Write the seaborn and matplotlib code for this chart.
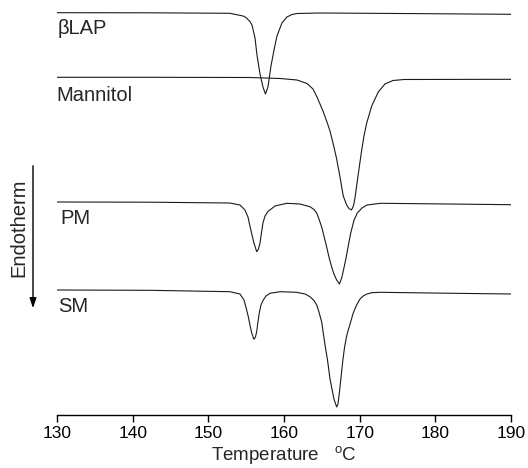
import numpy as np
import pandas as pd
import matplotlib
matplotlib.use("Agg")
import matplotlib.pyplot as plt
import seaborn as sns

# ---- data (temperature in degC, heat flow in a.u., endotherm down) ----
blap_T = [130.00, 142.29, 152.86, 154.58, 154.97, 155.50, 155.77, 156.17, 156.43, 156.83, 157.22,
          157.55, 157.88, 158.28, 158.68, 159.07, 159.73, 160.39, 161.06, 161.72, 164.75, 175.33, 190.00]
blap_hf = [402.3, 402.2, 401.7, 399.0, 397.5, 393.5, 390.0, 377.0, 360.0, 341.0, 328.0,
           321.0, 328.0, 349.0, 365.0, 379.0, 392.0, 398.0, 400.5, 401.5, 402.0, 401.5, 400.7]

mann_T = [130.00, 142.29, 155.50, 159.47, 161.72, 163.04, 163.83, 164.36, 165.15, 165.68,
          166.08, 166.54, 166.96, 167.40, 167.83, 168.28, 168.59, 168.92, 169.18, 169.38,
          169.78, 170.27, 170.57, 170.93, 171.59, 172.46, 173.34, 174.40, 175.86, 190.00]
mann_hf = [337.7, 337.7, 337.5, 336.5, 335.0, 331.5, 326.0, 318.0, 304.0, 293.0,
           284.0, 270.0, 256.0, 238.0, 219.0, 210.0, 206.5, 205.0, 209.0, 217.0,
           239.0, 265.0, 279.0, 292.0, 309.0, 323.0, 331.0, 334.5, 335.5, 335.7]

pm_T = [130.00, 142.29, 152.86, 154.18, 154.84, 155.24, 155.50, 155.77, 156.03, 156.39,
        156.63, 156.83, 157.02, 157.22, 157.49, 157.88, 158.81, 160.35, 162.11, 163.43,
        163.96, 164.32, 164.62, 164.98, 165.28, 165.64, 165.94, 166.30, 166.60, 166.96,
        167.33, 167.66, 168.15, 168.59, 168.82, 169.26, 169.69, 170.31, 170.97, 172.78,
        179.29, 190.00]
pm_hf = [213.0, 212.8, 212.0, 210.0, 205.0, 198.0, 189.0, 180.0, 172.0, 163.3,
         166.0, 172.0, 182.0, 192.0, 199.0, 203.5, 209.0, 211.7, 211.0, 208.3,
         205.5, 202.0, 196.0, 188.0, 179.0, 168.0, 158.0, 148.0, 141.0, 135.0,
         131.0, 138.0, 155.0, 173.0, 182.0, 195.0, 202.0, 207.0, 210.0, 211.7,
         211.2, 210.3]

sm_T = [130.00, 142.29, 152.86, 154.18, 154.71, 154.97, 155.28, 155.50, 155.73, 156.03,
        156.23, 156.39, 156.56, 156.73, 156.96, 157.26, 157.62, 158.15, 159.47, 161.67,
        162.77, 163.43, 163.96, 164.32, 164.62, 164.98, 165.42, 165.75, 166.08, 166.34,
        166.60, 166.96, 167.13, 167.30, 167.53, 167.75, 167.99, 168.28, 168.49, 168.81,
        169.15, 169.60, 170.04, 170.47, 170.96, 171.59, 172.68, 179.29, 190.00]
sm_hf = [125.0, 124.7, 123.3, 121.0, 115.0, 108.0, 98.3, 90.0, 82.0, 75.7,
         78.0, 83.3, 93.0, 102.0, 110.0, 115.0, 119.0, 121.7, 123.3, 122.7,
         121.0, 118.3, 114.5, 110.0, 103.0, 93.0, 70.0, 55.0, 36.0, 26.0,
         16.0, 8.0, 11.0, 21.0, 37.0, 53.0, 67.0, 79.0, 85.0, 93.0,
         102.0, 110.0, 116.0, 119.0, 121.0, 122.3, 122.7, 122.0, 121.0]

labels = ["\u03b2LAP", "Mannitol", "PM", "SM"]
x_ticks = [130, 140, 150, 160, 170, 180, 190]

frames = []
for name, T, hf in zip(labels, [blap_T, mann_T, pm_T, sm_T], [blap_hf, mann_hf, pm_hf, sm_hf]):
    frames.append(pd.DataFrame({"T": T, "hf": hf, "sample": name}))
df = pd.concat(frames, ignore_index=True)

sns.set_style("ticks")
plt.rcParams["font.family"] = ["Liberation Sans", "DejaVu Sans"]
plt.rcParams["mathtext.fontset"] = "custom"
plt.rcParams["mathtext.rm"] = "Liberation Sans"
plt.rcParams["mathtext.it"] = "Liberation Sans:italic"

W, H = 528, 468
fig = plt.figure(figsize=(W / 100, H / 100), dpi=100)
ax = fig.add_axes([57 / W, 53 / H, 454 / W, 415 / H])

for name in labels:
    sub = df[df["sample"] == name]
    sns.lineplot(data=sub, x="T", y="hf", ax=ax, color="#1a1a1a", linewidth=0.8,
                 sort=False, estimator=None)

ax.set_xlim(130, 190)
ax.set_ylim(0, 415)
ax.set_xticks(x_ticks)
ax.set_xticklabels([str(t) for t in x_ticks], fontsize=12.5)
ax.tick_params(axis="x", direction="out", length=5, width=1, pad=3, colors="black")
ax.set_yticks([])
for s in ["left", "right", "top"]:
    ax.spines[s].set_visible(False)
ax.spines["bottom"].set_linewidth(1)
ax.spines["bottom"].set_color("black")
ax.set_xlabel(r"Temperature   $^{\mathrm{o}}$C", fontsize=13.5, labelpad=2)
ax.set_ylabel("")

# curve labels (figure pixel coords)
def fig_text(px, py, s, **kw):
    fig.text(px / W, 1 - py / H, s, **kw)

fig_text(58, 29, labels[0], fontsize=14.5, va="center", ha="left")
fig_text(56, 96, labels[1], fontsize=14.5, va="center", ha="left")
fig_text(60, 218, labels[2], fontsize=14.5, va="center", ha="left")
fig_text(58, 307, labels[3], fontsize=14.5, va="center", ha="left")

# Endotherm arrow
fig_text(19, 228, "Endotherm", fontsize=14.5, va="center", ha="center", rotation=90)
fig.add_artist(matplotlib.patches.FancyArrowPatch(
    (33 / W, 1 - 163 / H), (33 / W, 1 - 311 / H), transform=fig.transFigure,
    arrowstyle="-|>,head_length=6,head_width=2", color="black", linewidth=1,
    mutation_scale=1))

fig.savefig("out.png", dpi=100)
